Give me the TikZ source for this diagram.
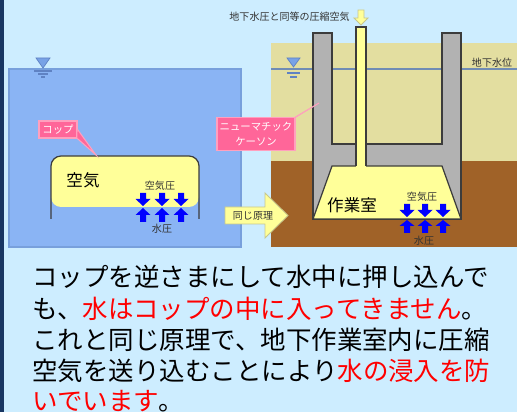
\documentclass[tikz,border=0pt]{standalone}
\usepackage{fontspec}
\setmainfont{Noto Sans CJK JP}

\definecolor{bgblue}{RGB}{205,237,255}
\definecolor{navy}{RGB}{24,54,98}
\definecolor{water}{RGB}{138,180,244}
\definecolor{wateredge}{RGB}{120,160,220}
\definecolor{markblue}{RGB}{120,162,230}
\definecolor{markedge}{RGB}{95,130,195}
\definecolor{waterline}{RGB}{112,140,180}
\definecolor{sand}{RGB}{227,222,160}
\definecolor{soil}{RGB}{160,98,40}
\definecolor{concrete}{RGB}{178,178,178}
\definecolor{edge}{RGB}{60,60,60}
\definecolor{airyellow}{RGB}{255,255,153}
\definecolor{yellowedge}{RGB}{200,200,140}
\definecolor{pinkbox}{RGB}{255,102,153}
\definecolor{pinkedge}{RGB}{255,160,190}
\definecolor{pressblue}{RGB}{0,0,255}
\definecolor{labelgray}{RGB}{50,50,50}
\definecolor{textred}{RGB}{255,0,0}

\begin{document}
\begin{tikzpicture}[scale=0.02]
    \tikzstyle{every node}+=[inner sep=0pt]
    \tikzstyle{callout}=[fill=pinkbox, draw=pinkedge, line width=0.6pt, text=white, align=center, font=\fontsize{5.9}{8.5}\selectfont]
    \tikzstyle{small}=[text=labelgray, font=\fontsize{5.7}{6.5}\selectfont]
    \tikzstyle{big}=[text=black, font=\fontsize{9.4}{11}\selectfont]
    \tikzstyle{line}=[anchor=west, text=black, font=\fontsize{14.5}{17}\selectfont]
    % page
    \fill [bgblue] (0,0) rectangle (517,-412);
    \fill [navy] (0,0) rectangle (4,-412);
    \useasboundingbox (0,0) rectangle (517,-412);
    % glass pushed into water
    \filldraw [fill=water, draw=wateredge, line width=0.6pt] (9,-69) rectangle (241,-247);
    \filldraw [fill=markblue, draw=markedge, line width=0.4pt] (36,-58) -- (50,-58) -- (43,-68) -- cycle;
    \draw [markedge, line width=0.7pt] (34,-71) -- (52,-71);
    \draw [markedge, line width=0.7pt] (38,-74) -- (48,-74);
    \draw [markedge, line width=0.7pt] (41,-77) -- (45,-77);
    \fill [airyellow, rounded corners=5.7pt] (51,-207) -- (51,-156) -- (199,-156) -- (199,-207) -- cycle;
    \draw [edge, line width=0.7pt, rounded corners=5.7pt] (51,-219) -- (51,-156) -- (199,-156) -- (199,-219);
    \node [big] (air) at (83,-180) {空気};
    \node [small] (air p left) at (160,-186) {空気圧};
    \node [small] (water p left) at (162,-229) {水圧};
    \foreach \x in {143,162,181} {
        \fill [pressblue] (\x-3,-193) -- (\x+3,-193) -- (\x+3,-199) -- (\x+7.5,-199) -- (\x,-206) -- (\x-7.5,-199) -- (\x-3,-199) -- cycle;
        \fill [pressblue] (\x-3,-222) -- (\x+3,-222) -- (\x+3,-215) -- (\x+7.5,-215) -- (\x,-208) -- (\x-7.5,-215) -- (\x-3,-215) -- cycle;
    }
    % ground and caisson
    \fill [sand] (271,-43) rectangle (517,-161);
    \fill [soil] (271,-161) rectangle (517,-247);
    \draw [waterline, line width=1.2pt] (271,-69) -- (517,-69);
    \filldraw [fill=markblue, draw=markedge, line width=0.4pt] (287,-58) -- (300,-58) -- (293.5,-67) -- cycle;
    \draw [markedge, line width=0.7pt] (287,-73) -- (300,-73);
    \draw [markedge, line width=0.7pt] (290,-77) -- (297,-77);
    \filldraw [fill=concrete, draw=edge, line width=0.7pt] (313,-33) -- (332,-33) -- (332,-144) -- (442,-144) -- (442,-33) -- (461,-33) -- (461,-219) -- (313,-219) -- cycle;
    \filldraw [fill=airyellow, draw=edge, line width=0.7pt] (332,-166) -- (442,-166) -- (461,-219) -- (313,-219) -- cycle;
    \fill [airyellow] (356,-27) rectangle (366,-167);
    \draw [edge, line width=0.7pt] (356,-166) -- (356,-27) -- (366,-27) -- (366,-166);
    \filldraw [fill=airyellow, draw=yellowedge, line width=0.5pt] (358,-10) -- (364,-10) -- (364,-18) -- (368,-18) -- (361,-25) -- (354,-18) -- (358,-18) -- cycle;
    \node [small, anchor=east] (supply) at (350,-17) {地下水圧と同等の圧縮空気};
    \node [small] (gw level) at (492,-63) {地下水位};
    \node [big] (chamber) at (352,-205) {作業室};
    \node [small] (air p right) at (422,-197) {空気圧};
    \node [small] (water p right) at (424,-241) {水圧};
    \foreach \x in {407,425,443} {
        \fill [pressblue] (\x-3,-204) -- (\x+3,-204) -- (\x+3,-210) -- (\x+7.5,-210) -- (\x,-217) -- (\x-7.5,-210) -- (\x-3,-210) -- cycle;
        \fill [pressblue] (\x-3,-233) -- (\x+3,-233) -- (\x+3,-226) -- (\x+7.5,-226) -- (\x,-220) -- (\x-7.5,-226) -- (\x-3,-226) -- cycle;
    }
    % same principle arrow
    \filldraw [fill=airyellow, draw=yellowedge, line width=0.5pt] (225,-207) -- (265,-207) -- (265,-193) -- (288,-215.5) -- (265,-238) -- (265,-224) -- (225,-224) -- cycle;
    \node [small] (same) at (253,-216) {同じ原理};
    % callouts
    \node [callout, minimum width=0.76cm, minimum height=0.34cm] (cup label) at (58,-129.5) {コップ};
    \coordinate (cup tip) at (96,-155);
    \path [fill=pinkbox, draw=pinkedge, line width=0.6pt] ([yshift=2pt]cup label.east) -- (cup tip) -- ([xshift=-4pt]cup label.south east);
    \node [callout, minimum width=1.56cm, minimum height=0.66cm] (caisson label) at (256,-134) {ニューマチック\\ケーソン};
    \coordinate (caisson tip) at (319,-103);
    \path [fill=pinkbox, draw=pinkedge, line width=0.6pt] ([xshift=-4pt]caisson label.north east) -- (caisson tip) -- ([yshift=-6pt]caisson label.north east);
    % explanation
    \node [line] (l1) at (32,-277) {コップを逆さまにして水中に押し込んで};
    \node [line] (l2) at (32,-309) {も、\textcolor{textred}{水はコップの中に入ってきません}。};
    \node [line] (l3) at (32,-340) {これと同じ原理で、地下作業室内に圧縮};
    \node [line] (l4) at (32,-371) {空気を送り込むことにより\textcolor{textred}{水の浸入を防}};
    \node [line] (l5) at (32,-401) {\textcolor{textred}{いでいます}。};
\end{tikzpicture}
\end{document}
